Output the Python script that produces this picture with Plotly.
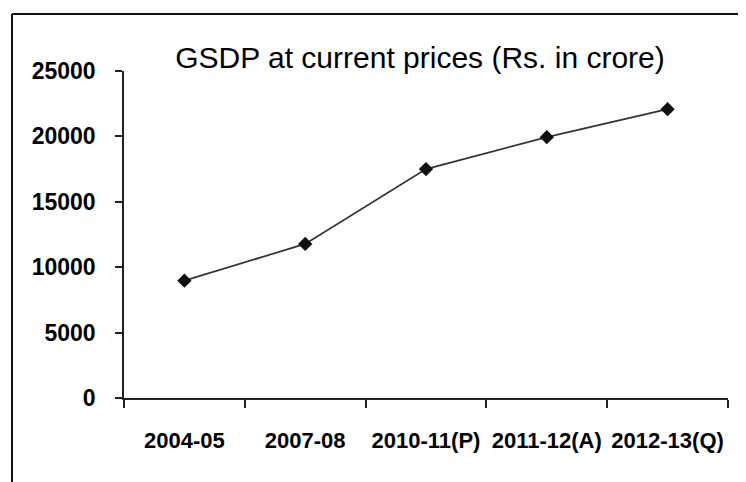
import plotly.graph_objects as go

categories = ["2004-05", "2007-08", "2010-11(P)", "2011-12(A)", "2012-13(Q)"]
gsdp = [8970, 11780, 17500, 19940, 22080]
y_ticks = [0, 5000, 10000, 15000, 20000, 25000]
title_text = "GSDP at current prices (Rs. in crore)"

fig = go.Figure()
fig.add_trace(go.Scatter(
    x=categories, y=gsdp, mode="lines+markers",
    line=dict(color="#333333", width=1.7),
    marker=dict(symbol="diamond", size=11, color="#111111"),
    showlegend=False, hoverinfo="x+y",
))

# page body has an 8px default margin: figure occupies 8..746 x 8..482
OFF = 8
W, H = 746 - OFF, 482 - OFF
ml, mr, mt, mb = 124 - OFF, 18, 71 - OFF, 84
pw, ph = W - ml - mr, H - mt - mb

def px_to_paper_x(px):
    return (px - OFF - ml) / pw

def px_to_paper_y(py):
    return (H - mb - (py - OFF)) / ph

FONT = "Liberation Sans, Arial, sans-serif"

fig.update_layout(
    width=W, height=H,
    margin=dict(l=ml, r=mr, t=mt, b=mb, pad=0, autoexpand=False),
    paper_bgcolor="white", plot_bgcolor="white",
    font=dict(family=FONT, color="#000000"),
    title=dict(
        text=title_text, x=(420 - OFF) / W, xref="container", xanchor="center",
        y=1 - (57 - OFF) / H, yref="container", yanchor="middle",
        font=dict(size=30, family=FONT, color="#000000"),
        automargin=False,
    ),
    xaxis=dict(
        type="category", range=[-0.5, 4.5], automargin=False, tickangle=0,
        showline=True, linecolor="#222222", linewidth=1.5,
        ticks="outside", ticklen=8, tickwidth=1.5, tickcolor="#222222",
        tickson="boundaries", showgrid=False, zeroline=False,
        tickfont=dict(size=22, family=FONT, weight="bold"),
        ticklabelstandoff=22,
    ),
    yaxis=dict(
        range=[0, 25000], tickvals=y_ticks, ticktext=[str(v) for v in y_ticks],
        automargin=False,
        showline=True, linecolor="#222222", linewidth=1.5,
        ticks="outside", ticklen=7, tickwidth=1.5, tickcolor="#222222",
        showgrid=False, zeroline=False,
        tickfont=dict(size=23, family=FONT, weight="bold"),
        ticklabelstandoff=15,
    ),
    shapes=[
        dict(type="line", xref="paper", yref="paper",
             x0=px_to_paper_x(12), x1=px_to_paper_x(746 + 5),
             y0=px_to_paper_y(14), y1=px_to_paper_y(14),
             line=dict(color="#111111", width=2)),
        dict(type="line", xref="paper", yref="paper",
             x0=px_to_paper_x(12), x1=px_to_paper_x(12),
             y0=px_to_paper_y(14), y1=px_to_paper_y(482 + 5),
             line=dict(color="#111111", width=2)),
    ],
)

fig.write_html("out.html")
